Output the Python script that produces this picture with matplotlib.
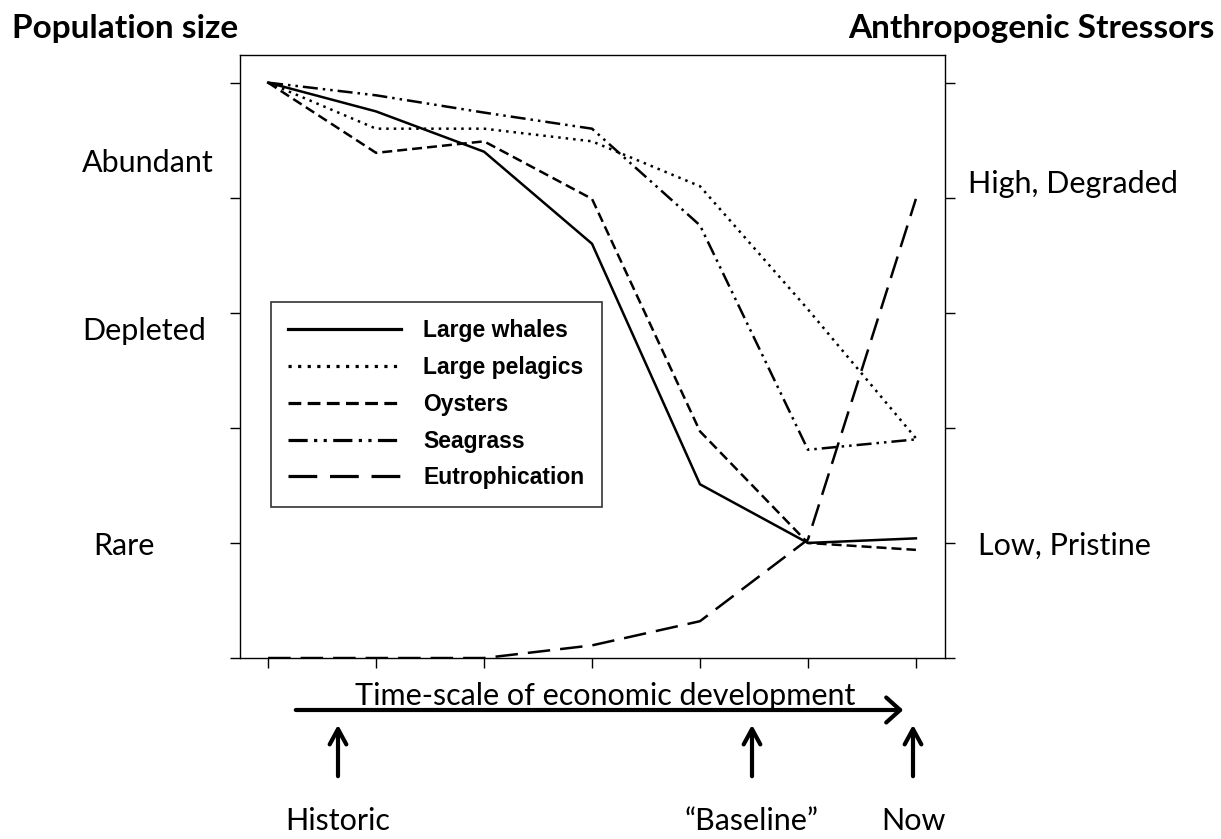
import matplotlib.pyplot as plt
from matplotlib.patches import FancyArrowPatch

# development stages along the time axis
stages = [0, 1, 2, 3, 4, 5, 6]

whales = [5.0, 4.75, 4.40, 3.60, 1.51, 1.0, 1.04]
pelagics = [5.0, 4.60, 4.60, 4.49, 4.10, 3.03, 1.91]
oysters = [5.0, 4.39, 4.49, 3.99, 1.97, 1.0, 0.94]
seagrass = [5.0, 4.89, 4.74, 4.60, 3.76, 1.81, 1.90]
eutrophication = [0.0, 0.0, 0.0, 0.11, 0.32, 1.03, 3.99]

left_labels = ["Abundant", "Depleted", "Rare"]
right_labels = ["High, Degraded", "Low, Pristine"]
time_marks = ["Historic", "\u201cBaseline\u201d", "Now"]

plt.rcParams['font.family'] = ['Lato', 'DejaVu Sans']

W, H = 1221, 839


def fx(px):
    return px / W


def fy(py):
    return 1 - py / H


fig = plt.figure(figsize=(12.21, 8.39), dpi=100)
ax = fig.add_axes([0.1966, 0.2157, 0.5774, 0.7187])

lw = 1.8
ax.plot(stages, whales, color='black', lw=lw, linestyle='-', label='Large whales')
ax.plot(stages, pelagics, color='black', lw=lw, linestyle=(0, (1, 2)), label='Large pelagics')
ax.plot(stages, oysters, color='black', lw=lw, linestyle=(0, (4, 2)), label='Oysters')
ax.plot(stages, seagrass, color='black', lw=lw, linestyle=(0, (6, 2, 1, 2, 1, 2)), label='Seagrass')
ax.plot(stages, eutrophication, color='black', lw=lw, linestyle=(0, (9, 4)), label='Eutrophication')

ax.set_xlim(-0.26, 6.27)
ax.set_ylim(0, 5.24)
ax.set_xticks(stages)
ax.set_yticks([0, 1, 2, 3, 4, 5])
ax.tick_params(axis='both', direction='out', length=7, width=1, labelbottom=False, labelleft=False)
ax.tick_params(axis='y', right=True)
for sp in ax.spines.values():
    sp.set_linewidth(1)

leg = ax.legend(loc='upper left', bbox_to_anchor=(0.044, 0.59), borderaxespad=0,
                frameon=True, fancybox=False, edgecolor='black',
                handlelength=4.9, handletextpad=1.0, labelspacing=0.6, borderpad=0.75,
                prop={'family': ['Liberation Sans', 'DejaVu Sans'], 'weight': 'bold', 'size': 16.5})
leg.get_frame().set_linewidth(1.2)
for h in leg.get_lines():
    h.set_linewidth(2.3)

# side headings and level labels
fig.text(fx(12), fy(38), "Population size", fontsize=24, fontweight='bold', va='baseline', ha='left')
fig.text(fx(1215), fy(38), "Anthropogenic Stressors", fontsize=24, fontweight='bold', va='baseline', ha='right')
for lab, x, y in zip(left_labels, [82, 82, 93], [172, 340, 555]):
    fig.text(fx(x), fy(y), lab, fontsize=22, va='baseline', ha='left')
for lab, x, y in zip(right_labels, [968, 978], [193, 555]):
    fig.text(fx(x), fy(y), lab, fontsize=22, va='baseline', ha='left')

# time axis caption with arrow
fig.text(fx(605), fy(705), "Time-scale of economic development", fontsize=22, va='baseline', ha='center')
fig.add_artist(FancyArrowPatch((fx(293), fy(710)), (fx(906), fy(710)), transform=fig.transFigure,
                               arrowstyle='->,head_length=0.5,head_width=0.45',
                               mutation_scale=20, lw=3, color='black'))

for lab, x in zip(time_marks, [338, 752, 913]):
    fig.add_artist(FancyArrowPatch((fx(x), fy(779)), (fx(x), fy(722)), transform=fig.transFigure,
                                   arrowstyle='->,head_length=0.55,head_width=0.3',
                                   mutation_scale=20, lw=3, color='black'))
    fig.text(fx(x), fy(830), lab, fontsize=22, va='baseline', ha='center')

fig.savefig('out.png', dpi=100)
